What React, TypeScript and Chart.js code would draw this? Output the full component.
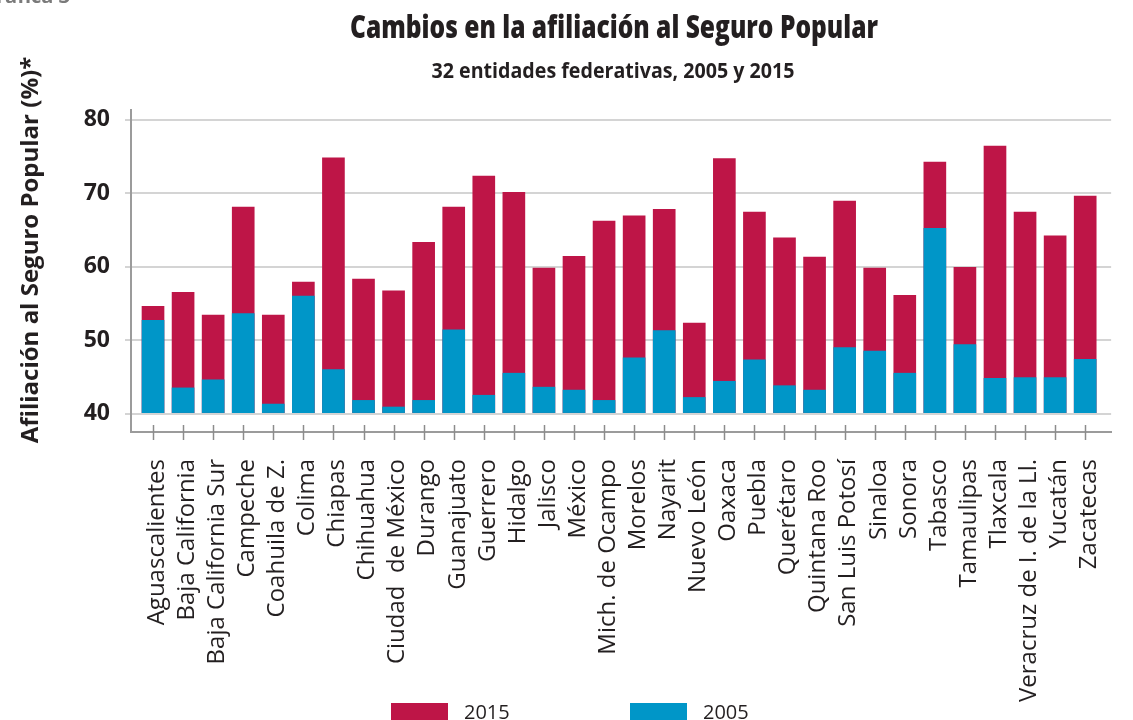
import React, { useEffect, useRef } from 'react';
import { Chart, registerables } from 'chart.js';

Chart.register(...registerables);

const states = [
  'Aguascalientes', 'Baja California', 'Baja California Sur', 'Campeche', 'Coahuila de Z.',
  'Colima', 'Chiapas', 'Chihuahua', 'Ciudad  de México', 'Durango', 'Guanajuato', 'Guerrero',
  'Hidalgo', 'Jalisco', 'México', 'Mich. de Ocampo', 'Morelos', 'Nayarit', 'Nuevo León',
  'Oaxaca', 'Puebla', 'Querétaro', 'Quintana Roo', 'San Luis Potosí', 'Sinaloa', 'Sonora',
  'Tabasco', 'Tamaulipas', 'Tlaxcala', 'Veracruz de I. de la Ll.', 'Yucatán', 'Zacatecas',
];

const values2015 = [
  54.6, 56.5, 53.4, 68.1, 53.4, 57.9, 74.8, 58.3, 56.7, 63.3, 68.1, 72.3, 70.1, 59.8, 61.4, 66.2,
  66.9, 67.8, 52.3, 74.7, 67.4, 63.9, 61.3, 68.9, 59.8, 56.1, 74.2, 59.9, 76.4, 67.4, 64.2, 69.6,
];

const values2005 = [
  52.7, 43.5, 44.6, 53.6, 41.3, 56.0, 46.0, 41.8, 40.9, 41.8, 51.4, 42.5, 45.5, 43.6, 43.2, 41.8,
  47.6, 51.3, 42.2, 44.4, 47.3, 43.8, 43.2, 49.0, 48.5, 45.5, 65.2, 49.4, 44.8, 44.9, 44.9, 47.4,
];

const yTicks = [40, 50, 60, 70, 80];
const seriesLabels = ['2015', '2005'];
const seriesColors = ['#be1547', '#0096c8'];

const titleText = 'Cambios en la afiliación al Seguro Popular';
const subtitleText = '32 entidades federativas, 2005 y 2015';
const yAxisTitle = 'Afiliación al Seguro Popular (%)*';
const cornerText = 'Gráfica 3';

const FONT = "'Open Sans', 'Noto Sans', sans-serif";
const INK = '#231f20';

function drawScaledText(ctx: CanvasRenderingContext2D, text: string, font: string, cx: number, baseline: number, width: number, color: string) {
  ctx.save();
  ctx.font = font;
  const w = ctx.measureText(text).width;
  ctx.translate(cx, baseline);
  ctx.scale(width / w, 1);
  ctx.fillStyle = color;
  ctx.textAlign = 'center';
  ctx.textBaseline = 'alphabetic';
  ctx.fillText(text, 0, 0);
  ctx.restore();
}

const decorPlugin = {
  id: 'decor',
  afterDraw(chart: any) {
    const ctx: CanvasRenderingContext2D = chart.ctx;
    const area = chart.chartArea;

    // titles
    drawScaledText(ctx, titleText, `800 32px ${FONT}`, 614, 38, 528, INK);
    drawScaledText(ctx, subtitleText, `bold 22px ${FONT}`, 613, 78, 363, INK);

    // corner label (cut off by the page edge)
    ctx.save();
    ctx.font = `bold 20px ${FONT}`;
    ctx.fillStyle = '#7a7a7a';
    ctx.textAlign = 'right';
    ctx.textBaseline = 'alphabetic';
    ctx.fillText(cornerText, 70, 3);
    ctx.restore();

    // y axis title
    ctx.save();
    ctx.translate(31, 250);
    ctx.rotate(-Math.PI / 2);
    ctx.font = `bold 24px ${FONT}`;
    ctx.fillStyle = INK;
    ctx.textAlign = 'center';
    ctx.textBaseline = 'middle';
    ctx.fillText(yAxisTitle, 0, 0);
    ctx.restore();

    // x tick marks crossing the axis
    const xs = chart.scales.x;
    ctx.save();
    ctx.strokeStyle = '#8c8c8c';
    ctx.lineWidth = 1.5;
    xs.ticks.forEach((t: any) => {
      const px = Math.round(xs.getPixelForValue(t.value)) + 0.5;
      ctx.beginPath();
      ctx.moveTo(px, area.bottom - 7);
      ctx.lineTo(px, area.bottom + 8);
      ctx.stroke();
    });
    ctx.restore();

    // legend
    const ds = chart.data.datasets;
    const boxX = [391, 630];
    ctx.save();
    ctx.font = `20px ${FONT}`;
    ctx.textAlign = 'left';
    ctx.textBaseline = 'alphabetic';
    ds.forEach((d: any, i: number) => {
      ctx.fillStyle = d.backgroundColor;
      ctx.fillRect(boxX[i], 703, 57, 20);
      ctx.fillStyle = INK;
      ctx.fillText(d.label, boxX[i] + 73, 719);
    });
    ctx.restore();
  },
};

export default function App() {
  const canvasRef = useRef<HTMLCanvasElement | null>(null);

  useEffect(() => {
    document.body.style.margin = '0';
    document.body.style.overflow = 'hidden';
    const canvas = canvasRef.current;
    if (!canvas) return;

    const chart = new Chart(canvas, {
      type: 'bar',
      data: {
        datasets: [
          {
            label: seriesLabels[0],
            data: values2015.map((v, i) => ({ x: i, y: v })),
            backgroundColor: seriesColors[0],
            order: 1,
          },
          {
            label: seriesLabels[1],
            data: values2005.map((v, i) => ({ x: i, y: v })),
            backgroundColor: seriesColors[1],
            order: 0,
          },
        ],
      },
      options: {
        animation: false,
        responsive: true,
        maintainAspectRatio: false,
        layout: { padding: { top: 110, left: 0, right: 0, bottom: 0 } },
        datasets: {
          bar: {
            grouped: false,
            barThickness: 22,
            base: 40,
            borderWidth: 0,
          },
        },
        plugins: {
          legend: { display: false },
          title: { display: false },
          tooltip: { enabled: false },
        },
        scales: {
          x: {
            type: 'linear',
            offset: false,
            min: -0.732,
            max: 31.862,
            afterBuildTicks: (s: any) => {
              s.ticks = states.map((_, i) => ({ value: i }));
            },
            afterFit: (s: any) => {
              s.height = 288;
            },
            ticks: {
              autoSkip: false,
              minRotation: 90,
              maxRotation: 90,
              padding: 19,
              labelOffset: 4,
              color: INK,
              font: { family: FONT, size: 24 },
              callback: (v: any) => states[v],
            },
            grid: { display: false },
            border: { display: true, color: '#9b9b9b', width: 2 },
          },
          y: {
            min: 37.5,
            max: 81.3,
            afterBuildTicks: (s: any) => {
              s.ticks = yTicks.map((v) => ({ value: v }));
            },
            afterFit: (s: any) => {
              s.width = 131;
            },
            ticks: {
              padding: 15,
              color: INK,
              font: { family: FONT, size: 23, weight: 'bold' },
            },
            grid: { color: '#d4d4d4', lineWidth: 2, tickLength: 6, tickColor: '#d4d4d4' },
            border: { display: true, color: '#9b9b9b', width: 2 },
          },
        },
      },
      plugins: [decorPlugin],
    } as any);

    return () => chart.destroy();
  }, []);

  return (
    <div style={{ position: 'relative', width: 1133, height: 720 }}>
      <canvas ref={canvasRef} />
    </div>
  );
}
